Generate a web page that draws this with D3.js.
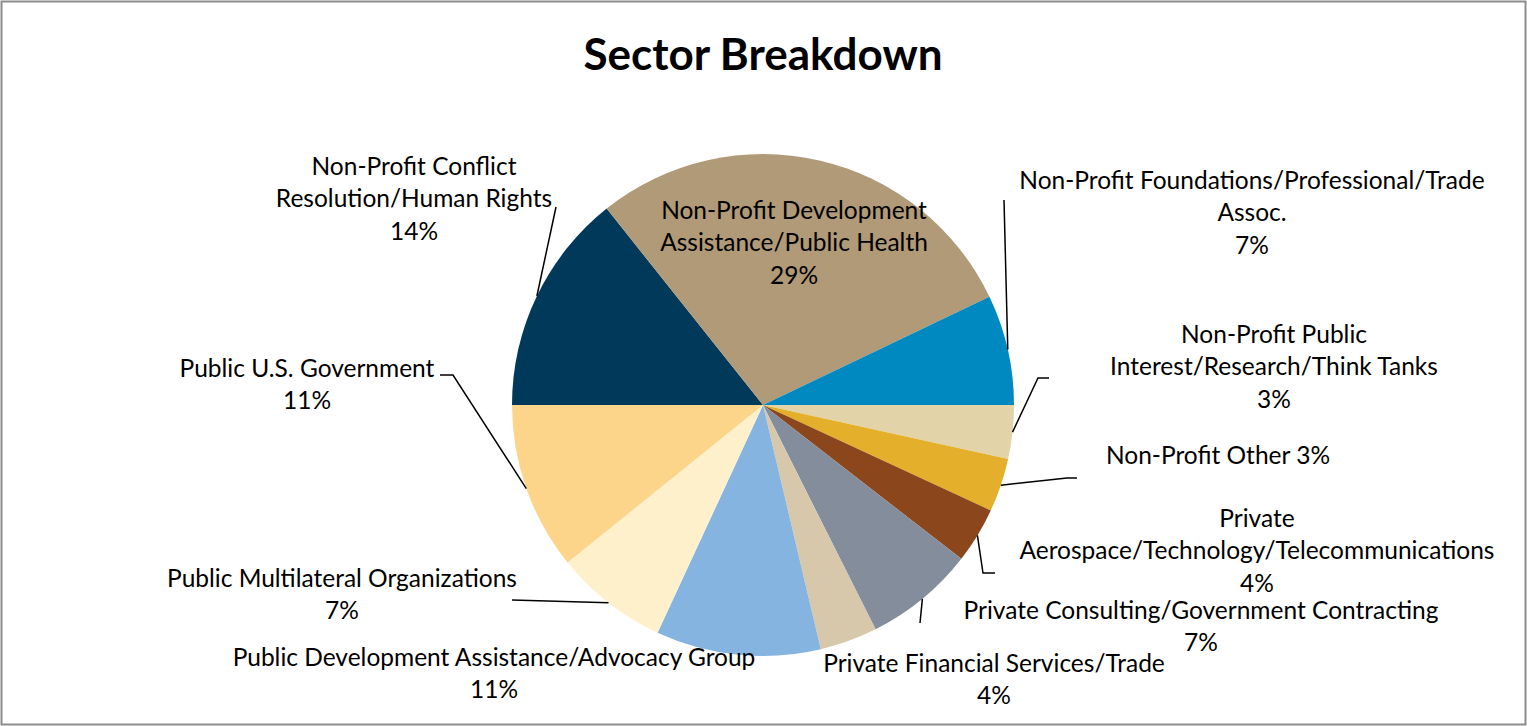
<!DOCTYPE html>
<html>
<head>
<meta charset="utf-8">
<script src="https://cdn.jsdelivr.net/npm/d3@7"></script>
<style>
  body { margin: 0; background: #fff; }
  text { font-family: Lato, "Open Sans", sans-serif; fill: #000; }
</style>
</head>
<body>
<div id="vis"></div>
<script>
var width = 1527,
    height = 726;

// slices in clockwise order, starting at 9 o'clock
var sectors = [
  "Non-Profit Conflict Resolution/Human Rights",
  "Non-Profit Development Assistance/Public Health",
  "Non-Profit Foundations/Professional/Trade Assoc.",
  "Non-Profit Public Interest/Research/Think Tanks",
  "Non-Profit Other",
  "Private Aerospace/Technology/Telecommunications",
  "Private Consulting/Government Contracting",
  "Private Financial Services/Trade",
  "Public Development Assistance/Advocacy Group",
  "Public Multilateral Organizations",
  "Public U.S. Government"
];
var shares = [14.3, 28.6, 7.1, 3.45, 3.45, 3.6, 7.1, 3.7, 10.6, 7.3, 10.8];
var pctLabels = ["14%", "29%", "7%", "3%", "3%", "4%", "7%", "4%", "11%", "7%", "11%"];
var labelLines = [
  ["Non-Profit Conflict", "Resolution/Human Rights", "14%"],
  ["Non-Profit Development", "Assistance/Public Health", "29%"],
  ["Non-Profit Foundations/Professional/Trade", "Assoc.", "7%"],
  ["Non-Profit Public", "Interest/Research/Think Tanks", "3%"],
  ["Non-Profit Other 3%"],
  ["Private", "Aerospace/Technology/Telecommunications", "4%"],
  ["Private Consulting/Government Contracting", "7%"],
  ["Private Financial Services/Trade", "4%"],
  ["Public Development Assistance/Advocacy Group", "11%"],
  ["Public Multilateral Organizations", "7%"],
  ["Public U.S. Government", "11%"]
];
var colors = ["#00395a", "#b09a78", "#0089c0", "#e2d4a8", "#e4b02c", "#8c461c",
              "#848d9c", "#d8c8ab", "#85b4e0", "#fff0cc", "#fdd58a"];

// label placement (center x, first line y) and leader bends
var labelPos = [[414,166],[794,210],[1252,180],[1274,334],[1218,455],[1257,518],
                [1201,610],[994,663],[494,657],[342,578],[307,368]];
var leaders = [
  [[556,207]], null, [[1004,200]], [[1038,378],[1049,378]], [[1067,478],[1077,478]],
  [[983,573],[995,573]], [[920,623]], null, null, [[512,600]], [[453,375],[440,375]]
];

var cx = 763, cy = 405, r = 251;
var lineH = 32.5;

var svg = d3.select('#vis').append('svg')
    .attr("width", width)
    .attr("height", height);

svg.append("rect")
    .attr("x", 1.5).attr("y", 1.5)
    .attr("width", width - 3).attr("height", height - 3)
    .attr("fill", "#fff")
    .attr("stroke", "#8c8c8c")
    .attr("stroke-width", 2);

svg.append("text")
    .attr("x", cx)
    .attr("y", 55)
    .attr("dy", "0.35em")
    .attr("text-anchor", "middle")
    .style("font-size", "44px")
    .style("font-weight", "bold")
    .text("Sector Breakdown");

var pie = d3.pie()
    .sort(null)
    .value(function(d) { return d; })
    .startAngle(-Math.PI / 2)
    .endAngle(3 * Math.PI / 2);

var arc = d3.arc().innerRadius(0).outerRadius(r);
var edgeArc = d3.arc().innerRadius(r).outerRadius(r);

var arcs = pie(shares);

var g = svg.append("g").attr("transform", "translate(" + cx + "," + cy + ")");

g.selectAll('path.slice')
    .data(arcs)
    .enter()
    .append('path')
    .attr('class', 'slice')
    .attr('d', arc)
    .attr('fill', function(d, i) { return colors[i]; })
    .append("title")
    .text(function(d, i) { return sectors[i] + ": " + pctLabels[i]; });

// leader lines from slice edge
var line = d3.line();
arcs.forEach(function(d, i) {
    if (!leaders[i]) return;
    var c = edgeArc.centroid(d);
    var pts = [[cx + c[0], cy + c[1]]].concat(leaders[i]);
    svg.append("path")
        .attr("d", line(pts))
        .attr("fill", "none")
        .attr("stroke", "#000")
        .attr("stroke-width", 1.5);
});

labelLines.forEach(function(lines, i) {
    var t = svg.append("text")
        .attr("text-anchor", "middle")
        .style("font-size", "24.5px");
    lines.forEach(function(s, k) {
        t.append("tspan")
            .attr("x", labelPos[i][0])
            .attr("y", labelPos[i][1] + k * lineH)
            .attr("dy", "0.35em")
            .text(s);
    });
});
</script>
</body>
</html>
